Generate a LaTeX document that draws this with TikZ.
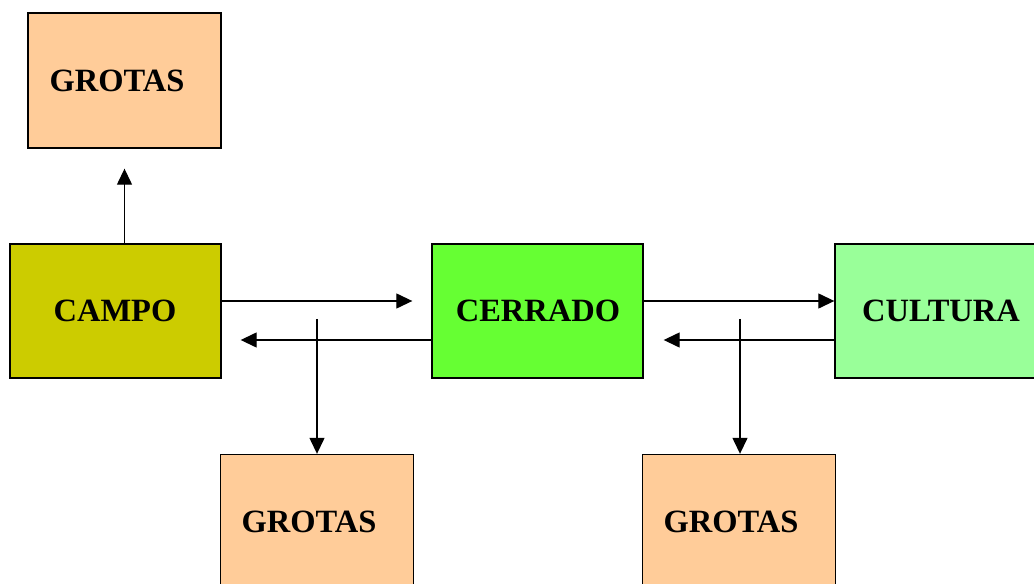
\documentclass[tikz,border=0pt]{standalone}
\usepackage{fontspec}
\setmainfont{Liberation Serif}
\usetikzlibrary{arrows.meta,positioning,calc}

\definecolor{grotacol}{HTML}{FFCC99}
\definecolor{campocol}{HTML}{CCCC00}
\definecolor{cerradocol}{HTML}{66FF33}
\definecolor{culturacol}{HTML}{99FF99}

\tikzset{
  bigbox/.style={rectangle, draw, line width=0.8pt, minimum width=4.22cm, minimum height=2.68cm},
  grotabox/.style={rectangle, draw, line width=0.8pt, fill=grotacol, minimum width=3.86cm, minimum height=2.7cm},
  lbl/.style={font=\fontsize{18.5}{20}\selectfont\bfseries},
  link/.style={line width=0.75pt, -{Triangle[length=0.32cm,width=0.3cm]}}
}

\begin{document}
\begin{tikzpicture}[x=0.02cm, y=-0.02cm]
			\clip (0,0) rectangle (1034,584);

			% GROTAS (top)
			\node[grotabox] (grotasT) at (124.5,80.5) {};
			\node[lbl] (grotasTtxt) at (117,81) {GROTAS};

			% CAMPO
			\node[bigbox, fill=campocol] (campo) at (115.5,311) {};
			\node[lbl] (campotxt) at (115,311) {CAMPO};

			% CERRADO
			\node[bigbox, fill=cerradocol] (cerrado) at (537.5,311) {};
			\node[lbl] (cerradotxt) at (538,311) {CERRADO};

			% CULTURA
			\node[bigbox, fill=culturacol] (cultura) at (940.5,311) {};
			\node[lbl] (culturatxt) at (941,311) {CULTURA};

			% GROTAS (bottom)
			\node[grotabox] (grotasA) at (317,522) {};
			\node[lbl] (grotasAtxt) at (309,522) {GROTAS};
			\node[grotabox] (grotasB) at (739,522) {};
			\node[lbl] (grotasBtxt) at (731,522) {GROTAS};

			% connectors
			\draw[link] (grotasT.south |- campo.north) -- ($(grotasT.south)+(0,20)$);
			\draw[link] ($(campo.east)+(0,-10)$) -- ($(cerrado.west)+(-19,-10)$);
			\draw[link] ($(cerrado.west)+(0,29)$) -- ($(campo.east)+(19,29)$);
			\coordinate (splitA) at ($(grotasA.north)+(0,-135)$);
			\draw[link] (splitA) -- (grotasA.north);
			\draw[link] ($(cerrado.east)+(0,-10)$) -- ($(cultura.west)+(0,-10)$);
			\draw[link] ($(cultura.west)+(0,29)$) -- ($(cerrado.east)+(20,29)$);
			\coordinate (splitB) at ($(grotasB.north)+(1,-135)$);
			\draw[link] (splitB) -- ($(grotasB.north)+(1,0)$);
		\end{tikzpicture}
\end{document}
